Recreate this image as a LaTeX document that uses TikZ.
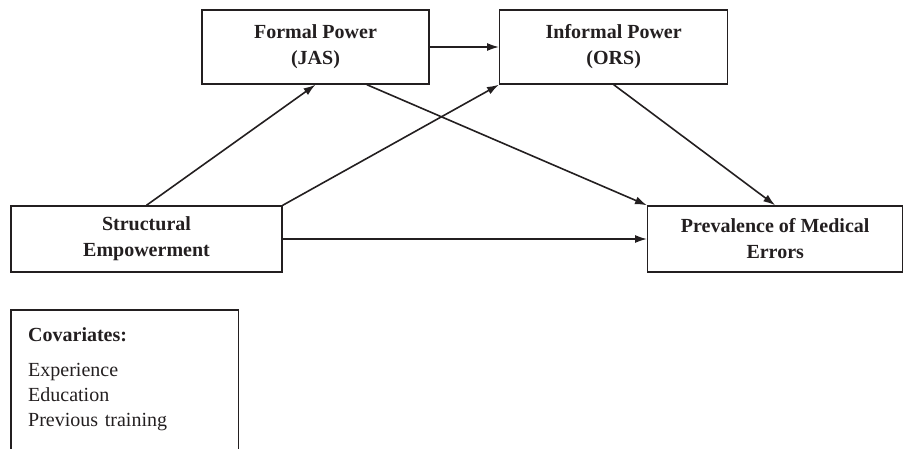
\documentclass[tikz,border=0pt]{standalone}
\usepackage{fontspec}
\setmainfont{Liberation Serif}
\usetikzlibrary{arrows.meta,calc}
\definecolor{tinta}{HTML}{231F20}
\tikzstyle{caja}=[draw=tinta, line width=1.4pt, text=tinta, align=center,
  inner sep=0pt, minimum height=66pt,
  font=\fontsize{20}{26}\selectfont\bfseries]
\tikzstyle{cajaalta} = [caja, minimum height=74pt]
\tikzstyle{notas} = [text=tinta, align=left, anchor=north west,
  inner xsep=17pt, inner ysep=17pt, text width=193pt,
  font=\fontsize{20}{25}\selectfont]
\tikzstyle{line} = [draw=tinta, line width=1.6pt, -{Latex[length=12pt,width=8pt]}]
\newcommand{\variable}[3]{node (#1) [caja, minimum width=#2] {#3}}
\newcommand{\mediador}[3]{node (#1) [cajaalta, minimum width=#2] {#3}}

\begin{document}
\begin{tikzpicture}[x=1pt,y=1pt]
\useasboundingbox (0,0) rectangle (904,449);
\clip (0,0) rectangle (904,449);

% Draw diagram elements
\path (146.5,210)            \variable{se}{271pt}{Structural\\Empowerment};
\path (se.center)+(169,192)  \mediador{fp}{227pt}{Formal Power\\(JAS)};
\path (fp.east)+(184,0)      \mediador{ip}{228pt}{Informal Power\\(ORS)};
\path (se.east)+(492.5,0)    \variable{pe}{255pt}{Prevalence of Medical\\Errors};

% Covariates, frame open at the bottom
\node (cov) [notas] at (11,139) {\textbf{Covariates:}\\[10pt]
  Experience\\ Education\\ Previous training};
\coordinate (fondo) at (0,-5);
\draw [draw=tinta, line width=1.4pt] (cov.west |- fondo) |- (cov.north east)
  -- (cov.east |- fondo);

% Draw arrows between elements
\path [line] (se.north) -- (fp.south);
\path [line] (se.north east) -- (ip.south west);
\path [line] (fp.east) -- (ip.west);
\path [line] ($(fp.south)!0.45!(fp.south east)$) -- (pe.north west);
\path [line] (ip.south) -- (pe.north);
\path [line] (se.east) -- (pe.west);
\end{tikzpicture}
\end{document}
